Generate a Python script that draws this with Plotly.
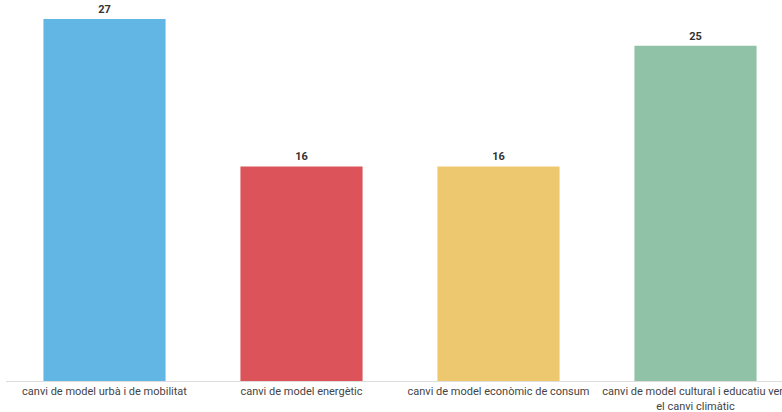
import plotly.graph_objects as go

categories = [
    "canvi de model urbà i de mobilitat",
    "canvi de model energètic",
    "canvi de model econòmic de consum",
    "canvi de model cultural i educatiu vers<br>el canvi climàtic",
]
values = [27, 16, 16, 25]
colors = ["#62b6e3", "#dc5359", "#eec86f", "#8fc2a7"]

x0 = -0.5

fig = go.Figure(
    go.Bar(
        x=list(range(len(categories))),
        y=values,
        marker=dict(color=colors, line=dict(width=0)),
        width=0.62,
        text=[f"<b>{v}</b>" for v in values],
        textposition="outside",
        textfont=dict(family="Roboto", size=11, color="#333333"),
        cliponaxis=False,
    )
)

fig.update_layout(
    width=782,
    height=412,
    margin=dict(l=6, r=0, t=19, b=31),
    plot_bgcolor="white",
    paper_bgcolor="white",
    showlegend=False,
    font=dict(family="Roboto", size=11, color="#444444"),
    xaxis=dict(
        automargin=False,
        range=[x0, x0 + 776 / 197],
        tickmode="array",
        tickvals=list(range(len(categories))),
        ticktext=categories,
        ticklabeloverflow="allow",
        showline=True,
        linecolor="#dddddd",
        linewidth=1,
        showgrid=False,
        zeroline=False,
        ticks="",
        tickfont=dict(family="Roboto", size=11, color="#444444"),
    ),
    yaxis=dict(
        automargin=False,
        range=[0, 27],
        visible=False,
        showgrid=False,
        zeroline=False,
    ),
)

fig.write_html(
    "out.html",
    config={"displayModeBar": False},
    post_script="document.body.style.margin='0';document.body.style.overflow='hidden';",
)
